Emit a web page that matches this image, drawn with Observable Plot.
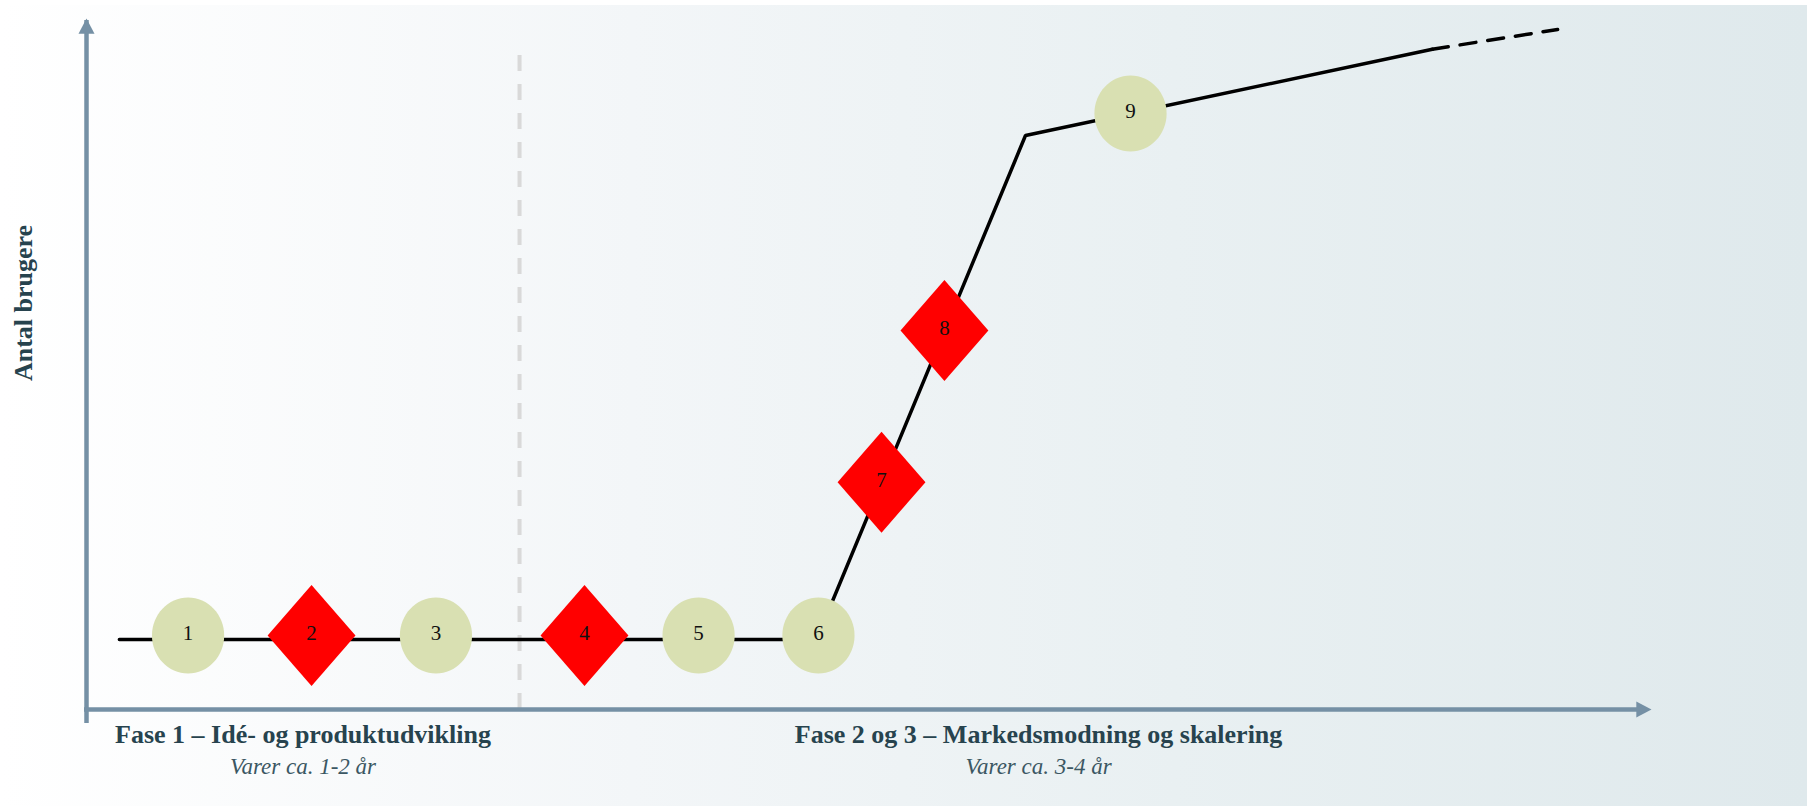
<!DOCTYPE html>
<html lang="da">
<head>
<meta charset="utf-8">
<title>Antal brugere – faser</title>
<script src="https://cdn.jsdelivr.net/npm/d3@7"></script>
<script src="https://cdn.jsdelivr.net/npm/@observablehq/plot@0.6"></script>
<style>
  html, body { margin: 0; padding: 0; overflow: hidden; }
  body {
    width: 1807px; height: 806px;
    background:
      linear-gradient(#ffffff, #ffffff) top / 100% 5px no-repeat,
      linear-gradient(to right, #ffffff 0%, #f3f6f8 35%, #e9f0f2 65%, #dfe9ec 100%);
  }
  #chart svg { display: block; }
</style>
</head>
<body>
<div id="chart"></div>
<script>
// Growth curve: time along x (0–100), number of users along y (0–100).
const curveX = [2.1, 46.65, 60.0, 86.0];
const curveY = [10.13, 10.13, 83.07, 95.55];

// Uncertain continuation of the curve
const trendX = [86.0, 94.0];
const trendY = [95.55, 98.41];

// Numbered steps along the curve
const stepIds   = [1, 2, 3, 4, 5, 6, 7, 8, 9];
const stepX     = [6.49, 14.38, 22.33, 31.82, 39.11, 46.77, 50.8, 54.82, 66.71];
const stepY     = [10.7, 10.7, 10.7, 10.7, 10.7, 10.7, 32.9, 54.85, 86.25];
const stepKinds = ["milepæl", "beslutning", "milepæl", "beslutning", "milepæl",
                   "milepæl", "beslutning", "beslutning", "milepæl"];

// Phases along the time axis
const phaseTitles    = ["Fase 1 – Idé- og produktudvikling", "Fase 2 og 3 – Markedsmodning og skalering"];
const phaseDurations = ["Varer ca. 1-2 år", "Varer ca. 3-4 år"];
const phaseStart     = [0, 27.67];
const phaseEnd       = [27.67, 94.0];

const yLabel = "Antal brugere";

// Tables built from the arrays above
const curve = curveX.map((x, i) => ({x, y: curveY[i]}));
const trend = trendX.map((x, i) => ({x, y: trendY[i]}));
const steps = stepIds.map((id, i) => ({id, x: stepX[i], y: stepY[i], kind: stepKinds[i]}));
const phases = phaseTitles.map((title, i) => ({
  title, duration: phaseDurations[i], start: phaseStart[i], end: phaseEnd[i],
  mid: (phaseStart[i] + phaseEnd[i]) / 2
}));
const boundaries = phaseStart.filter(v => v > 0);

// Custom symbols: slightly tall ellipse, tall diamond, and an arrow head with its tip at the origin
const ellipse = {
  draw(ctx, size) {
    const r = Math.sqrt(size / Math.PI), rx = r * 0.95, ry = r, k = 0.5523;
    ctx.moveTo(rx, 0);
    ctx.bezierCurveTo(rx, ry * k, rx * k, ry, 0, ry);
    ctx.bezierCurveTo(-rx * k, ry, -rx, ry * k, -rx, 0);
    ctx.bezierCurveTo(-rx, -ry * k, -rx * k, -ry, 0, -ry);
    ctx.bezierCurveTo(rx * k, -ry, rx, -ry * k, rx, 0);
    ctx.closePath();
  }
};
const diamond = {
  draw(ctx, size) {
    const r = Math.sqrt(size / Math.PI), w = r * 0.87;
    ctx.moveTo(0, -r);
    ctx.lineTo(w, 0);
    ctx.lineTo(0, r);
    ctx.lineTo(-w, 0);
    ctx.closePath();
  }
};
const arrowHead = {
  draw(ctx, size) {
    const r = Math.sqrt(size / Math.PI);
    ctx.moveTo(0, 0);
    ctx.lineTo(r, r * 1.9);
    ctx.lineTo(-r, r * 1.9);
    ctx.closePath();
  }
};

const axisColor = "#7590a5";
const textColor = "#27434e";
const serif = "'Liberation Serif', 'DejaVu Serif', serif";
const [xMin, xMax] = [0, 100];
const [yMin, yMax] = [0, 100];

const chart = Plot.plot({
  width: 1807,
  height: 806,
  marginLeft: 86,
  marginRight: 156,
  marginTop: 18,
  marginBottom: 97,
  x: {domain: [xMin, xMax], axis: null},
  y: {domain: [yMin, yMax], axis: null},
  style: {background: "transparent", fontFamily: serif, overflow: "visible"},
  marks: [
    // phase boundary
    Plot.ruleX(boundaries, {x: d => d, y1: yMin, y2: 94.9, stroke: "#d9d9d9", strokeWidth: 4, strokeDasharray: "16,13"}),

    // axes with arrow heads
    Plot.ruleX([xMin], {y1: yMin, y2: yMax, stroke: axisColor, strokeWidth: 4.5, dy: 2, insetTop: 12}),
    Plot.ruleY([yMin], {x1: xMin, x2: xMax, stroke: axisColor, strokeWidth: 4.5, dx: -2, insetRight: 12}),
    Plot.dot([yMax], {x: xMin, y: d => d, symbol: arrowHead, r: 8, fill: axisColor, stroke: null}),
    Plot.dot([xMax], {x: d => d, y: yMin, symbol: arrowHead, r: 8, rotate: 90, fill: axisColor, stroke: null}),

    // user curve
    Plot.line(curve, {x: "x", y: "y", stroke: "#000", strokeWidth: 3.5, strokeLinejoin: "miter"}),
    Plot.line(trend, {x: "x", y: "y", stroke: "#000", strokeWidth: 3.5, strokeDasharray: "16,12"}),

    // numbered steps
    Plot.dot(steps, {filter: d => d.kind === "milepæl", x: "x", y: "y", symbol: ellipse, r: 38, fill: "#d9e0b2", stroke: null}),
    Plot.dot(steps, {filter: d => d.kind === "beslutning", x: "x", y: "y", symbol: diamond, r: 50.5, fill: "#ff0000", stroke: null}),
    Plot.text(steps, {x: "x", y: "y", text: "id", fontSize: 21, fill: "#111", dy: -2}),

    // phase captions under the time axis
    Plot.text(phases, {x: "mid", y: yMin, text: "title", dy: 25, fontSize: 26, fontWeight: "bold", fill: textColor}),
    Plot.text(phases, {x: "mid", y: yMin, text: "duration", dy: 57, fontSize: 23, fontStyle: "italic", fill: "#3b5763"}),

    // vertical axis title
    Plot.text([yLabel], {frameAnchor: "left", textAnchor: "middle", text: d => d, rotate: -90, dx: -63, dy: -61, fontSize: 26, fontWeight: "bold", fill: textColor})
  ]
});

document.getElementById("chart").append(chart);
</script>
</body>
</html>
